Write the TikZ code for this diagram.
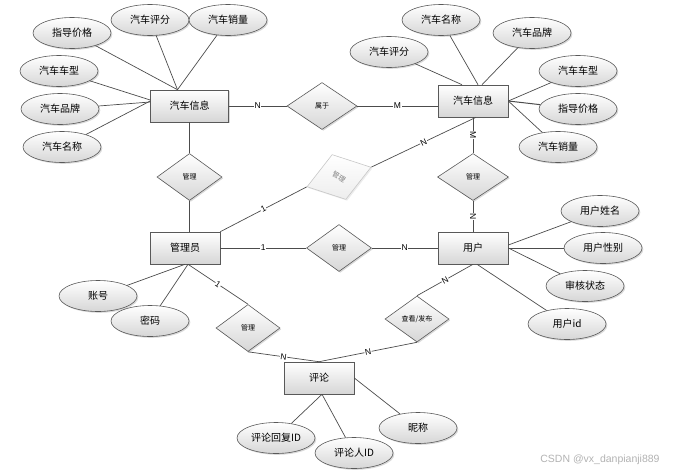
\documentclass[tikz,border=0pt]{standalone}
\usepackage{fontspec}
\setmainfont{Liberation Sans}
\newfontfamily\cjk{Noto Sans CJK SC}
\usetikzlibrary{shapes.geometric,shadows}
\begin{document}
\begin{tikzpicture}[x=1pt,y=-1pt,
 boxbase/.style={draw=black!65, line width=0.6pt, top color=white, bottom color=black!16,
   drop shadow={shadow xshift=1.3pt, shadow yshift=-1.3pt, opacity=0.3}, inner sep=0pt},
 ent/.style={boxbase, rectangle, minimum width=70pt, minimum height=32pt, font=\cjk\fontsize{10}{12}\selectfont},
 attr/.style={boxbase, ellipse, minimum width=78pt, minimum height=31pt, font=\cjk\fontsize{10}{12}\selectfont},
 rel/.style={boxbase, diamond, minimum width=65pt, minimum height=47pt, font=\cjk\fontsize{7}{8}\selectfont},
 conn/.style={draw=black!70, line width=0.7pt},
 lbl/.style={fill=white, inner sep=0.6pt, font=\fontsize{8.5}{9}\selectfont, sloped, pos=0.5}
]
\useasboundingbox (0,0) rectangle (679,474);

% left car info
\node[ent, minimum width=78pt] (L) at (189.5,106) {汽车信息};
\node[attr] (a1) at (72,33) {指导价格};
\node[attr] (a2) at (150,20) {汽车评分};
\node[attr] (a3) at (228,20) {汽车销量};
\node[attr] (a4) at (59,71) {汽车车型};
\node[attr] (a5) at (60,109) {汽车品牌};
\node[attr] (a6) at (62,147) {汽车名称};

\node[rel, minimum width=70pt] (S) at (322,106) {属于};

% right car info
\node[ent] (R) at (473,101) {汽车信息};
\node[attr] (b1) at (441,20) {汽车名称};
\node[attr] (b2) at (532,33) {汽车品牌};
\node[attr] (b3) at (389,52) {汽车评分};
\node[attr] (b4) at (578,71) {汽车车型};
\node[attr] (b5) at (578,109) {指导价格};
\node[attr] (b6) at (558,147) {汽车销量};

\node[rel, minimum width=71pt] (M2) at (473,177) {管理};
\node[rel] (M1) at (189.5,177) {管理};

% gray diamond
\node[diamond, rotate=17, draw=black!22, line width=0.6pt, top color=white, bottom color=black!7,
  drop shadow={shadow xshift=1.3pt, shadow yshift=-1.3pt, opacity=0.15},
  minimum width=67pt, minimum height=47pt, inner sep=0pt,
  text=black!50, font=\cjk\fontsize{7}{8}\selectfont] (G) at (339,177) {\rotatebox{-47}{管理}};

% admin
\node[ent] (A) at (185,248) {管理员};
\node[attr] (c1) at (98,296) {账号};
\node[attr] (c2) at (150,321) {密码};

\node[rel] (M3) at (339,248) {管理};

% user
\node[ent] (U) at (473,248) {用户};
\node[attr] (u1) at (600,211) {用户姓名};
\node[attr] (u2) at (603,248) {用户性别};
\node[attr] (u3) at (585,286) {审核状态};
\node[attr] (u4) at (567,324) {用户id};

\node[rel, minimum width=64pt, minimum height=46pt] (C) at (417,319) {查看/发布};
\node[rel, minimum width=64pt] (D) at (248,328) {管理};

% comment
\node[ent] (P) at (319,378) {评论};
\node[attr] (p1) at (276,438) {评论回复ID};
\node[attr] (p2) at (354,453) {评论人ID};
\node[attr] (p3) at (418,428) {昵称};

\node[text=black!30, font=\fontsize{10.5}{12}\selectfont, inner sep=0pt] (wm) at (600,460) {CSDN @vx\_danpianji889};

% attribute lines, left car
\draw[conn] (a1) -- ([xshift=-12pt]L.north);
\draw[conn] (a2) -- ([xshift=-12pt]L.north);
\draw[conn] (a3) -- ([xshift=-12pt]L.north);
\draw[conn] (a4) -- ([yshift=6pt]L.west);
\draw[conn] (a5) -- ([yshift=4pt]L.west);
\draw[conn] (a6) -- ([yshift=5pt]L.west);

% attribute lines, right car
\draw[conn] (b3) -- ([xshift=-11pt]R.north);
\draw[conn] (b1) -- ([xshift=5pt]R.north);
\draw[conn] (b2) -- ([xshift=9pt]R.north);
\draw[conn] (b4) -- (R.east);
\draw[conn, line width=1pt] (b5) -- (R.east);
\draw[conn] (b6) -- (R.east);

% user attributes
\draw[conn] (u1) -- ([yshift=3pt]U.east);
\draw[conn] (u2) -- (U.east);
\draw[conn] (u3) -- (U.east);
\draw[conn] (u4) -- ([xshift=4pt]U.south);

% admin attributes
\draw[conn] (c1) -- (A.south);
\draw[conn] (c2) -- ([xshift=3pt]A.south);

% comment attributes
\draw[conn] (p1) -- ([xshift=3pt]P.south);
\draw[conn] (p2) -- ([xshift=3pt]P.south);
\draw[conn] (p3) -- (P.east);

% relationships
\draw[conn] (L.east) -- node[lbl] {N} (S.west);
\draw[conn] (S.east) -- node[lbl] {M} (S.east -| R.west);
\draw[conn] (L.south) -- (M1.north);
\draw[conn] (M1.south) -- (M1.south |- A.north);
\draw[conn] (R.south) -- node[lbl] {M} (M2.north);
\draw[conn] (M2.south) -- node[lbl] {N} (U.north);
\draw[conn] (A.north east) -- node[lbl] {1} (G.west);
\draw[conn] (G.east) -- node[lbl] {N} ([xshift=3pt]R.south);
\draw[conn] (A.east) -- node[lbl] {1} (M3.west);
\draw[conn] (M3.east) -- node[lbl] {N} (U.west);
\draw[conn] (C.north) -- node[lbl] {N} (U.south);
\draw[conn] (C.south) -- node[lbl] {N} (P.north);
\draw[conn] ([xshift=3pt]A.south) -- node[lbl] {1} (D.north);
\draw[conn] (D.south) -- node[lbl] {N} (P.north);
\end{tikzpicture}
\end{document}
